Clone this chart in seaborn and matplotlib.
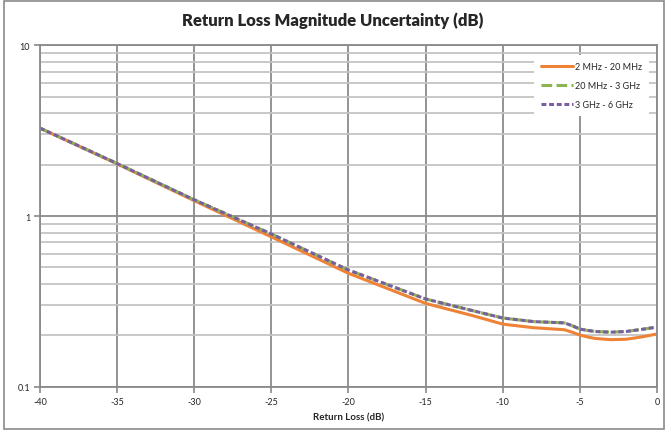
import numpy as np
import pandas as pd
import seaborn as sns
import matplotlib.pyplot as plt
from matplotlib.patches import Rectangle
from matplotlib.ticker import LogLocator, FixedLocator, NullFormatter

# values
return_loss = [-40, -35, -30, -25, -20, -15, -12, -10, -8, -6, -5.5, -5, -4.5, -4, -3, -2, -1, 0]
unc_2mhz_20mhz = [3.27, 2.02, 1.23, 0.755, 0.462, 0.308, 0.262, 0.233, 0.222, 0.216,
                  0.209, 0.201, 0.196, 0.192, 0.189, 0.190, 0.196, 0.204]
unc_20mhz_3ghz = [3.27, 2.03, 1.245, 0.785, 0.483, 0.327, 0.280, 0.253, 0.241, 0.237,
                  0.228, 0.218, 0.214, 0.211, 0.209, 0.211, 0.217, 0.224]
unc_3ghz_6ghz = [3.27, 2.03, 1.245, 0.785, 0.483, 0.327, 0.280, 0.253, 0.241, 0.237,
                 0.228, 0.218, 0.214, 0.211, 0.209, 0.211, 0.217, 0.224]
series_names = ['2 MHz - 20 MHz', '20 MHz - 3 GHz', '3 GHz - 6 GHz']
x_ticks = [-40, -35, -30, -25, -20, -15, -10, -5, 0]

df = pd.concat([
    pd.DataFrame({'rl': return_loss, 'unc': unc_2mhz_20mhz, 'band': series_names[0]}),
    pd.DataFrame({'rl': return_loss, 'unc': unc_20mhz_3ghz, 'band': series_names[1]}),
    pd.DataFrame({'rl': return_loss, 'unc': unc_3ghz_6ghz, 'band': series_names[2]}),
])

sns.set_style('white')
plt.rcParams['font.family'] = ['Lato', 'DejaVu Sans']

fig = plt.figure(figsize=(6.65, 4.31), dpi=100)
ax = fig.add_axes([0.060, 0.100, 0.928, 0.793])

palette = {series_names[0]: '#EE8336', series_names[1]: '#8DB452', series_names[2]: '#7A5FA0'}
dashes = {series_names[0]: '', series_names[1]: (3.5, 1.4), series_names[2]: (1.6, 0.9)}

sns.lineplot(data=df, x='rl', y='unc', hue='band', style='band', palette=palette,
             dashes=dashes, linewidth=2.2, ax=ax, legend=True, sort=False)

ax.set_yscale('log')
ax.set_xlim(-40, 0)
ax.set_ylim(0.1, 10)
ax.xaxis.set_major_locator(FixedLocator(x_ticks))
ax.set_xticklabels([str(t) for t in x_ticks])
ax.yaxis.set_major_locator(FixedLocator([0.1, 1, 10]))
ax.set_yticklabels(['0.1', '1', '10'])
ax.yaxis.set_minor_locator(LogLocator(base=10, subs=np.arange(2, 10)))
ax.yaxis.set_minor_formatter(NullFormatter())

ax.grid(False)
for t in x_ticks:
    ax.axvline(t, color='#8a8a8a', lw=1.3, zorder=0.5)
ax.grid(True, which='minor', axis='y', color='#c4c4c4', lw=1.3, zorder=0.4)
ax.grid(True, which='major', axis='y', color='#8a8a8a', lw=1.3, zorder=0.5)
ax.set_axisbelow(True)

for side in ['top', 'right', 'left', 'bottom']:
    ax.spines[side].set_color('#8a8a8a')
    ax.spines[side].set_linewidth(1.3)

ax.tick_params(axis='both', which='major', direction='out', length=4, width=1.2,
               color='#8a8a8a', labelsize=6.5, pad=3, left=True, bottom=True)
ax.tick_params(axis='y', which='minor', direction='out', length=0)

ax.set_xlabel('Return Loss (dB)', fontsize=7, fontweight='bold', labelpad=5)
ax.set_ylabel('')
fig.text(0.5, 0.953, 'Return Loss Magnitude Uncertainty (dB)', ha='center', va='center',
         fontsize=12, fontweight='heavy')

leg = ax.legend(loc='upper right', bbox_to_anchor=(0.995, 0.985), fontsize=6.5,
                frameon=True, fancybox=False, edgecolor='white', framealpha=1,
                handlelength=3.6, handletextpad=0.2, labelspacing=1.1, borderpad=0.8)
leg.get_frame().set_linewidth(0)

fig.patches.append(Rectangle((0.006, 0.003), 0.992, 0.992, transform=fig.transFigure,
                             fill=False, edgecolor='#8a8a8a', lw=1.2))

fig.savefig('out.png', dpi=100)
